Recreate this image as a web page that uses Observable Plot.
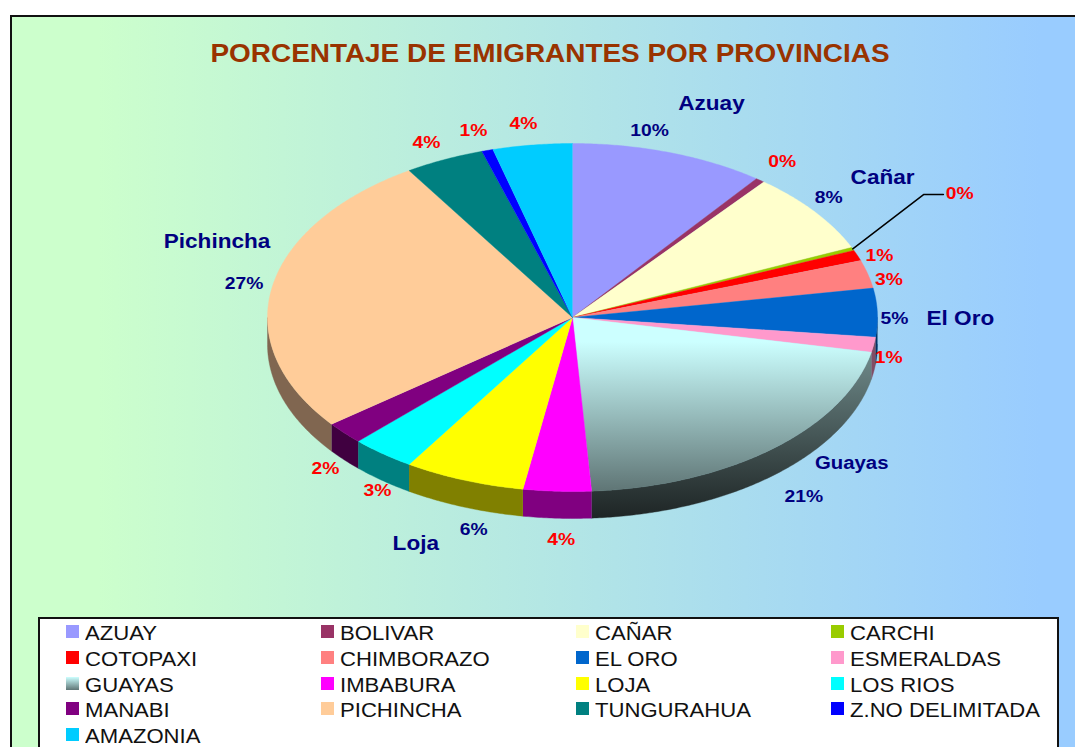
<!DOCTYPE html>
<html><head><meta charset="utf-8">
<script src="https://cdn.jsdelivr.net/npm/d3@7"></script>
<script src="https://cdn.jsdelivr.net/npm/@observablehq/plot@0.6"></script>
<style>
html,body{margin:0;padding:0;background:#fff;overflow:hidden}
#page{position:relative;width:1075px;height:747px;overflow:hidden;font-family:"Liberation Sans",Arial,sans-serif}
#panel{position:absolute;left:10px;top:15px;width:1075px;height:740px;box-sizing:border-box;border:2px solid #111;background:linear-gradient(90deg,#ccffcc 0%,#ccffcc 8%,#99ccff 96%)}
#title{position:absolute;left:0;width:1100px;top:38px;text-align:center;font-size:25px;font-weight:bold;color:#993300;line-height:30px;transform:scaleX(1.117);white-space:nowrap}
#chart{position:absolute;left:0;top:70px}
#legend{position:absolute;left:38px;top:617px;width:1021px;height:140px;box-sizing:border-box;border:2px solid #111;background:#fff}
.item{position:absolute;height:26px;line-height:26px;font-size:20px;color:#111;white-space:nowrap}
.item i{position:absolute;left:0;top:6px;width:13px;height:13px}
.item span{position:absolute;left:19px;top:1px;transform-origin:0 50%;transform:scaleX(1.105)}
</style></head><body>
<div id="page"><div id="panel"></div><div id="title"></div><div id="chart"></div><div id="legend"></div></div>
<script>
const titleText = "PORCENTAJE DE EMIGRANTES POR PROVINCIAS";
const provinces = ["AZUAY","BOLIVAR","CAÑAR","CARCHI","COTOPAXI","CHIMBORAZO","EL ORO","ESMERALDAS","GUAYAS","IMBABURA","LOJA","LOS RIOS","MANABI","PICHINCHA","TUNGURAHUA","Z.NO DELIMITADA","AMAZONIA"];
const shares = [10.3,0.49,7.61,0.3,1.0,2.6,4.5,1.4,20.8,3.6,6.4,3.4,2.1,26.5,4.2,0.6,4.2];
const colors = ["#9999ff","#993366","#ffffcc","#99cc00","#ff0000","#ff8080","#0066cc","#ff99cc","url(#guayasTop)","#ff00ff","#ffff00","#00ffff","#800080","#ffcc99","#008080","#0000ff","#00ccff"];
const wallColors = ["#4d4d80","#4d1a33","#808066","#4d6600","#800000","#804040","#003366","#804d66","url(#guayasWall)","#800080","#808000","#008080","#400040","#806650","#004040","#000080","#006680"];
const nameLabels = {"AZUAY":"Azuay","CAÑAR":"Cañar","EL ORO":"El Oro","GUAYAS":"Guayas","LOJA":"Loja","PICHINCHA":"Pichincha"};
const navyValues = ["AZUAY","CAÑAR","EL ORO","GUAYAS","LOJA","PICHINCHA"];

// pixel nudges of the hand-placed labels, from the slice's rim point
const valueNudge = [[-20,-22],[22,-19],[14,-14],[107,-55],[22,0],[21,5],[17,6],[15,13],[31,48],[4,48],[10,50],[-5,37],[-19,36],[-28,-4],[-18,-17],[-14,-20],[-9,-21]];
const nameNudge = {"AZUAY":[42,-49],"CAÑAR":[68,-34],"EL ORO":[83,6],"GUAYAS":[79,14],"LOJA":[-48,64],"PICHINCHA":[-55,-46]};
const nameSize = {"GUAYAS":18};

const depth = 0.155; // wall height, in units of the ellipse's vertical radius
const rad = d => d * Math.PI / 180;
const rim = t => [Math.sin(rad(t)), Math.cos(rad(t))];
const total = d3.sum(shares);
let acc = 0;
const slices = provinces.map((name, i) => {
  const a0 = acc / total * 360; acc += shares[i]; const a1 = acc / total * 360;
  return {name, i, a0, a1, mid: (a0 + a1) / 2, share: shares[i]};
});
const arcAngles = (a0, a1) => { const n = Math.max(2, Math.ceil((a1 - a0) * 2)); return d3.range(n + 1).map(k => a0 + (a1 - a0) * k / n); };

const topRows = slices.flatMap(s => [[0,0], ...arcAngles(s.a0, s.a1).map(rim)].map(([x,y]) => ({name: s.name, x, y})));

const wallMarks = slices.filter(s => s.a1 > 90 && s.a0 < 270).map(s => {
  const arc = arcAngles(Math.max(s.a0, 90), Math.min(s.a1, 270)).map(rim);
  const pts = [...arc, ...arc.slice().reverse().map(([x,y]) => [x, y - depth])];
  return Plot.line(pts, {x: d => d[0], y: d => d[1], fill: wallColors[s.i], stroke: wallColors[s.i], strokeWidth: 0.4});
});

function labelMark(s, text, nudge, color, size) {
  const [x, y] = rim(s.mid);
  return Plot.text([{x, y, text}], {x: "x", y: "y", text: "text", dx: nudge[0], dy: nudge[1], fill: color, fontSize: size, fontWeight: "bold", textAnchor: "middle", lineAnchor: "middle", fontFamily: "Liberation Sans"});
}
const valueMarks = slices.map(s => labelMark(s, Math.round(s.share) + "%", valueNudge[s.i], navyValues.includes(s.name) ? "#000080" : "#ff0000", 16.5));
const nameMarks = slices.filter(s => nameLabels[s.name]).map(s => labelMark(s, nameLabels[s.name], nameNudge[s.name], "#000080", nameSize[s.name] || 20));

const carchi = slices[3];
const [cx, cy] = rim(carchi.mid);
const leader = [[cx, cy], [cx + 0.232, cy + 0.312], [cx + 0.297, cy + 0.312]];

const plot = Plot.plot({
  width: 1075, height: 540, margin: 0,
  style: {background: "transparent", overflow: "visible"},
  x: {domain: [-1, 1], range: [267, 877], axis: null},
  y: {domain: [-1, 1], range: [421, 73], axis: null},
  color: {domain: provinces, range: colors},
  marks: [
    ...wallMarks,
    Plot.line(topRows, {x: "x", y: "y", z: "name", fill: "name", stroke: "name", strokeWidth: 0.4}),
    Plot.line(leader, {x: d => d[0], y: d => d[1], stroke: "#000", strokeWidth: 1.5}),
    ...valueMarks, ...nameMarks
  ]
});
d3.select(plot).insert("defs", ":first-child").html(`
  <linearGradient id="guayasTop" x1="0" y1="0" x2="0" y2="1"><stop offset="0" stop-color="#ccffff"/><stop offset="0.14" stop-color="#ccffff"/><stop offset="1" stop-color="#5f7575"/></linearGradient>
  <linearGradient id="guayasWall" x1="0" y1="0" x2="0" y2="1"><stop offset="0" stop-color="#6f8a8a"/><stop offset="0.8" stop-color="#2d3838"/><stop offset="1" stop-color="#1e2525"/></linearGradient>`);
// the reference's text is stretched sideways
d3.select(plot).selectAll("text").each(function() {
  const f = +this.parentNode.getAttribute("font-size") || 16.5;
  const k = f > 17 ? 1.13 : 1.17;
  this.setAttribute("transform", (this.getAttribute("transform") || "") + ` scale(${k} 1)`);
});
document.getElementById("chart").append(plot);

const titleEl = document.getElementById("title");
titleEl.textContent = titleText;

const legend = d3.select("#legend");
const colX = [26, 281, 536, 791], rowY = [0, 26, 52, 77, 103];
provinces.forEach((name, i) => {
  const it = legend.append("div").attr("class", "item").style("left", colX[i % 4] + "px").style("top", rowY[Math.floor(i / 4)] + "px");
  it.append("i").style("background", name === "GUAYAS" ? "linear-gradient(#ccffff,#5f7575)" : colors[i]);
  it.append("span").text(name);
});
</script>
</body></html>
